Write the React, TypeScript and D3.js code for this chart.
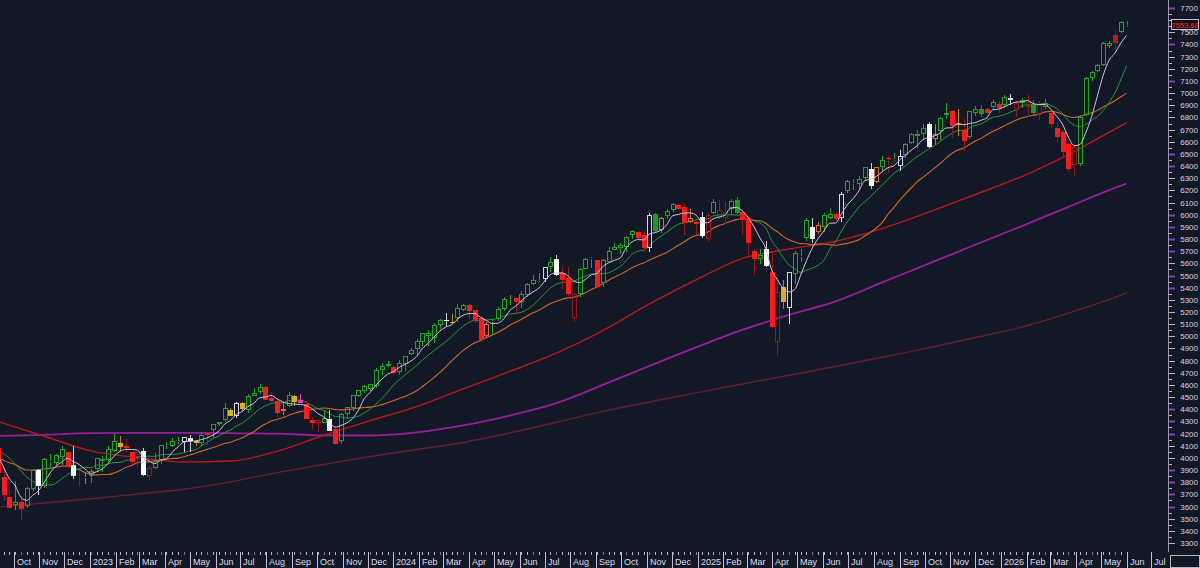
import React from "react";
import * as d3 from "d3";

// weekly bars, first bar = week of 12 Sep 2022
const firstWeek = new Date(2022, 8, 12);

const open = [
  4083, 3846, 3682, 3609, 3640, 3602, 3741, 3901, 3767, 3977, 3956, 4005, 4052, 3939, 3853, 3843,
  3853, 3911, 3989, 3979, 4056, 4119, 4096, 4052, 3992, 4055, 3855, 3917, 3982, 4102, 4100, 4138,
  4134, 4166, 4136, 4126, 4190, 4226, 4282, 4308, 4396, 4345, 4450, 4394, 4508, 4543, 4585, 4492,
  4465, 4389, 4427, 4510, 4480, 4445, 4310, 4285, 4289, 4321, 4238, 4140, 4364, 4407, 4511, 4554,
  4564, 4594, 4726, 4758,
  4745, 4703, 4772, 4853, 4892, 4957, 5026, 4989, 5094, 5130, 5111, 5154, 5219, 5258, 5218, 5149,
  5005, 5114, 5142, 5221, 5308, 5316, 5283, 5341, 5431, 5459, 5472, 5572, 5638, 5523, 5476, 5151,
  5345, 5557, 5640, 5624, 5442, 5615, 5712, 5727, 5737, 5836, 5857, 5833, 5724, 6008, 5878, 5992,
  6040, 6083, 6063, 5940, 5920,
  5983, 5804, 6014, 5969, 5969, 6046, 6121, 6026, 5969, 5705, 5635, 5719, 5527, 4953, 5405, 5233,
  5509, 5655, 5808, 5902, 5855, 5897, 6004, 6005, 5970, 6193, 6259, 6255, 6304, 6375, 6271, 6389,
  6455, 6457, 6401, 6490, 6586, 6665, 6661, 6744, 6622, 6685, 6820, 6851, 6750, 6700, 6635, 6840,
  6870, 6869, 6886, 6910,
  6902, 6960, 6861, 6920, 6886, 6910, 6820, 6886, 6836, 6713, 6680, 6582, 6409, 6420, 6820, 7124,
  7180, 7231, 7385, 7478, 7503, 7560,
];
const high = [
  4140, 3907, 3736, 3806, 3685, 3762, 3905, 3912, 4001, 4028, 4034, 4100, 4052, 4101, 3896, 3879,
  3906, 4003, 4015, 4095, 4195, 4176, 4156, 4052, 4048, 4079, 3937, 4039, 4110, 4133, 4164, 4170,
  4170, 4187, 4143, 4212, 4210, 4282, 4299, 4448, 4409, 4458, 4456, 4528, 4578, 4607, 4595, 4540,
  4490, 4448, 4541, 4514, 4527, 4466, 4338, 4317, 4394, 4393, 4255, 4366, 4415, 4520, 4560, 4598,
  4609, 4739, 4778, 4793,
  4755, 4802, 4842, 4903, 4975, 5030, 5048, 5111, 5140, 5190, 5180, 5262, 5264, 5264, 5220, 5168,
  5114, 5139, 5239, 5325, 5342, 5325, 5376, 5441, 5505, 5524, 5570, 5655, 5669, 5566, 5566, 5358,
  5563, 5644, 5651, 5626, 5636, 5734, 5767, 5765, 5822, 5878, 5862, 5868, 6012, 6018, 5984, 6044,
  6099, 6089, 6085, 6049, 5949,
  6021, 6014, 6128, 6120, 6101, 6128, 6147, 6044, 5987, 5715, 5715, 5787, 5695, 5481, 5459, 5528,
  5700, 5720, 5969, 5969, 5944, 6017, 6059, 6024, 6187, 6284, 6290, 6315, 6395, 6428, 6395, 6481,
  6481, 6509, 6533, 6592, 6672, 6699, 6750, 6764, 6745, 6800, 6920, 6864, 6870, 6785, 6855, 6895,
  6901, 6880, 6945, 6935,
  6985, 6990, 6935, 6960, 6985, 6940, 6935, 6950, 6860, 6760, 6700, 6600, 6580, 6810, 7130, 7180,
  7240, 7420, 7430, 7510, 7590, 7590,
];
const low = [
  3837, 3648, 3584, 3572, 3491, 3590, 3731, 3698, 3751, 3906, 3940, 3940, 3918, 3828, 3765, 3784,
  3794, 3887, 3885, 3966, 4050, 4060, 4048, 3943, 3928, 3847, 3809, 3909, 3949, 4069, 4086, 4114,
  4049, 4048, 4099, 4099, 4103, 4166, 4261, 4292, 4341, 4328, 4385, 4373, 4505, 4528, 4474, 4458,
  4335, 4356, 4417, 4430, 4448, 4317, 4238, 4216, 4284, 4223, 4104, 4113, 4329, 4388, 4504, 4537,
  4547, 4577, 4682, 4751,
  4683, 4682, 4714, 4845, 4845, 4918, 4920, 4946, 5057, 5087, 5105, 5117, 5204, 5146, 5107, 4953,
  4990, 5011, 5127, 5211, 5257, 5191, 5234, 5324, 5420, 5444, 5446, 5528, 5497, 5390, 5303, 5120,
  5327, 5554, 5561, 5403, 5406, 5604, 5707, 5675, 5695, 5803, 5794, 5697, 5697, 5853, 5853, 5963,
  6023, 6035, 5832, 5932, 5829,
  5809, 5773, 6009, 5962, 5923, 6003, 6009, 5837, 5667, 5505, 5597, 5573, 5069, 4835, 5221, 5101,
  5433, 5615, 5786, 5767, 5841, 5861, 5963, 5952, 5944, 6175, 6201, 6201, 6281, 6212, 6258, 6360,
  6343, 6443, 6360, 6467, 6578, 6551, 6625, 6550, 6570, 6615, 6790, 6631, 6650, 6521, 6620, 6810,
  6800, 6760, 6870, 6840,
  6880, 6900, 6800, 6880, 6804, 6820, 6779, 6870, 6720, 6600, 6480, 6351, 6327, 6400, 6810, 7100,
  7170, 7220, 7370, 7362, 7495, 7545,
];
const close = [
  3873, 3693, 3586, 3640, 3583, 3752, 3901, 3771, 3993, 3965, 4026, 4072, 3934, 3852, 3845, 3840,
  3895, 3999, 3973, 4071, 4136, 4090, 4079, 3970, 4046, 3862, 3917, 3971, 4109, 4105, 4138, 4133,
  4169, 4136, 4124, 4192, 4205, 4282, 4299, 4410, 4348, 4450, 4399, 4505, 4536, 4582, 4478, 4464,
  4370, 4406, 4515, 4457, 4450, 4320, 4288, 4308, 4327, 4224, 4117, 4358, 4415, 4514, 4559, 4595,
  4604, 4719, 4755, 4770,
  4697, 4784, 4840, 4891, 4959, 5027, 5006, 5089, 5137, 5124, 5117, 5234, 5254, 5204, 5123, 4967,
  5100, 5128, 5223, 5303, 5305, 5278, 5347, 5431, 5465, 5460, 5567, 5615, 5505, 5459, 5346, 5344,
  5554, 5634, 5648, 5408, 5626, 5703, 5738, 5751, 5815, 5864, 5808, 5728, 5995, 5870, 5969, 6032,
  6090, 6051, 5930, 5971, 5942,
  5827, 5997, 6101, 6041, 6026, 6115, 6013, 5955, 5770, 5639, 5667, 5581, 5074, 5363, 5283, 5525,
  5686, 5660, 5958, 5803, 5912, 6000, 5977, 5968, 6173, 6279, 6260, 6297, 6389, 6238, 6389, 6449,
  6467, 6460, 6482, 6584, 6664, 6644, 6716, 6553, 6664, 6792, 6840, 6729, 6734, 6603, 6849, 6870,
  6830, 6836, 6929, 6877,
  6966, 6940, 6919, 6943, 6927, 6840, 6902, 6919, 6746, 6639, 6516, 6376, 6557, 6800, 7124, 7174,
  7231, 7412, 7410, 7412, 7585, 7554,
];

// candle colour codes, one per bar: g green hollow, G green filled, r red filled, R dark red filled,
// d dark red hollow, w white filled, W white hollow, y yellow filled, o orange hollow, m magenta
const tone2022 = "rrrgrggwggggrwdo";
const tone2023 = "ggGggyrrdwdggggg" + "WwygrgggyWygggrr" + "rogymrrdgwrggggg" + "gggg";
const tone2024 = "rggggggggwygg" + "rrrogggg" + "rggggWgwrrdggg" + "rggggggrrWGoggrror";
const tone2025 = "wdgddgGrrrgwrdyW" + "gggwoggrWggggwog" + "rgWggggwoggryrgg" + "Grgr";
const tone2026 = "gWdgdGdgrrrrdggggggRgg";
const tone = (tone2022 + tone2023 + tone2024 + tone2025 + tone2026).split("");

// closes before the first bar, needed for the 5/10/20 week averages
const priorCloses = [
  4123, 4023, 3901, 4158, 4108, 3901, 3675, 3912, 3825, 3899, 3863, 3962, 4130, 4145, 4280, 4228,
  4058, 3924, 4067,
];

// long averages every 8 weeks (plus the last bar)
const longWeeks = [0, 8, 16, 24, 32, 40, 48, 56, 64, 72, 80, 88, 96, 104, 112, 120, 128, 136, 144, 152, 160, 168, 176, 184, 192, 194];
const ma50 = [4300, 4178, 4058, 4003, 3966, 3974, 4054, 4186, 4306, 4422, 4567, 4711, 4861, 5046, 5266, 5463, 5641, 5718, 5782, 5886, 6021, 6166, 6314, 6495, 6704, 6755];
const ma100 = [4180, 4190, 4203, 4205, 4205, 4203, 4199, 4185, 4184, 4210, 4267, 4348, 4450, 4600, 4756, 4909, 5053, 5176, 5287, 5443, 5597, 5753, 5906, 6064, 6220, 6256];
const ma200 = [3594, 3629, 3664, 3703, 3742, 3803, 3879, 3946, 4011, 4069, 4127, 4205, 4293, 4383, 4460, 4535, 4608, 4680, 4752, 4828, 4905, 4990, 5075, 5190, 5320, 5356];

const priceTicks = d3.range(3300, 7701, 100).filter((v) => v !== 7600);
const profileLevels = [7700, 7400, 7100, 6500, 6400, 6000, 5900, 5800, 5700, 5500, 5400, 4400, 4300, 4200, 3900, 3800, 3700, 3600];
const lastPrice = "7553.68";

const W = 1200;
const H = 568;
const plotRight = 1168;
const plotBottom = 552;
const font = "Liberation Sans, Arial, sans-serif";

const toneStyle: Record<string, { c: string; wick: string; fill: boolean }> = {
  g: { c: "#22a322", wick: "#22a322", fill: false },
  G: { c: "#1c9c1c", wick: "#1c9c1c", fill: true },
  r: { c: "#ff1a1a", wick: "#9e1717", fill: true },
  R: { c: "#b81c1c", wick: "#8e1a1a", fill: true },
  d: { c: "#8e1a1a", wick: "#8e1a1a", fill: false },
  w: { c: "#ffffff", wick: "#cfc8e0", fill: true },
  W: { c: "#d8cff0", wick: "#d8cff0", fill: false },
  y: { c: "#dcb010", wick: "#b08a10", fill: true },
  o: { c: "#d2702a", wick: "#d2702a", fill: false },
  m: { c: "#e040d8", wick: "#e040d8", fill: true },
};

export default function App() {
  const x = d3.scaleTime().domain([new Date(2023, 0, 1), new Date(2026, 0, 1)]).range([90, 1001]);
  const y = d3.scaleLinear().domain([3300, 7700]).range([543, 8]);

  const dates = close.map((_, i) => d3.timeDay.offset(firstWeek, 7 * i));
  const allCloses = priorCloses.concat(close);
  const sma = (n: number) =>
    close.map((_, i) => d3.mean(allCloses.slice(i + priorCloses.length - n + 1, i + priorCloses.length + 1)) as number);

  const shortLine = d3
    .line<number>()
    .x((_, i) => x(dates[i]))
    .y((v) => y(v))
    .curve(d3.curveMonotoneX);
  const longLine = (vals: number[]) =>
    d3
      .line<number>()
      .x((_, i) => x(d3.timeDay.offset(firstWeek, 7 * longWeeks[i])))
      .y((v) => y(v))
      .curve(d3.curveMonotoneX)(vals) as string;

  const months = d3.timeMonth.range(new Date(2022, 9, 1), new Date(2026, 7, 1));
  const fmtMonth = (d: Date) => (d.getMonth() === 0 ? d3.timeFormat("%Y")(d) : d3.timeFormat("%b")(d));

  const candles = dates.map((d, i) => {
    const st = toneStyle[tone[i] || (close[i] >= open[i] ? "g" : "r")];
    const px = Math.round(x(d));
    const top = Math.round(y(Math.max(open[i], close[i])));
    const bot = Math.round(y(Math.min(open[i], close[i])));
    const hi = Math.round(y(high[i]));
    const lo = Math.round(y(low[i]));
    const bh = Math.max(1, bot - top);
    return (
      <g key={i} shapeRendering="crispEdges">
        {st.fill ? (
          <>
            <line x1={px + 0.5} x2={px + 0.5} y1={hi} y2={lo} stroke={st.wick} />
            <rect x={px - 2} y={top} width={5} height={bh} fill={st.c} />
          </>
        ) : (
          <>
            <line x1={px + 0.5} x2={px + 0.5} y1={hi} y2={top} stroke={st.wick} />
            <line x1={px + 0.5} x2={px + 0.5} y1={top + bh} y2={lo} stroke={st.wick} />
            <rect x={px - 1.5} y={top + 0.5} width={4} height={Math.max(0, bh - 1)} fill="none" stroke={st.c} />
          </>
        )}
      </g>
    );
  });

  return (
    <svg width={W} height={H} style={{ position: "fixed", left: 0, top: 0, display: "block" }}>
      <rect width={W} height={H} fill="#131826" />
      <defs>
        <clipPath id="plot">
          <rect x={0} y={0} width={plotRight} height={plotBottom} />
        </clipPath>
      </defs>

      <g clipPath="url(#plot)" fill="none">
        <path d={longLine(ma200)} stroke="#6a1c32" strokeWidth={1.4} />
        <path d={longLine(ma100)} stroke="#951f9a" strokeWidth={1.8} />
        <path d={longLine(ma50)} stroke="#b41b1b" strokeWidth={1.4} />
        <path d={shortLine(sma(20)) as string} stroke="#d0682a" strokeWidth={1.1} />
        <path d={shortLine(sma(10)) as string} stroke="#1f9a3c" strokeWidth={1} />
        {candles}
        <path d={shortLine(sma(5)) as string} stroke="#cdc4e4" strokeWidth={1} />
      </g>

      {/* price axis */}
      <line x1={plotRight + 0.5} x2={plotRight + 0.5} y1={0} y2={plotBottom} stroke="#9a98aa" />
      {d3.range(3300, 7701, 50).map((v) => (
        <line key={v} x1={plotRight + 1} x2={plotRight + (v % 100 === 0 ? 7 : 4)} y1={Math.round(y(v)) + 0.5} y2={Math.round(y(v)) + 0.5} stroke="#b8b6c8" />
      ))}
      {profileLevels.map((v) => (
        <line key={"p" + v} x1={plotRight + 1} x2={plotRight + 7} y1={Math.round(y(v)) + 0.5} y2={Math.round(y(v)) + 0.5} stroke="#8e3fb0" strokeWidth={2} />
      ))}
      {priceTicks.map((v) => (
        <text key={v} x={1198} y={y(v) + 3} textAnchor="end" fill="#d4d4e4" fontSize={8} fontFamily={font}>
          {v}
        </text>
      ))}
      <rect x={1171.5} y={19.5} width={27} height={10} fill="#160f18" stroke="#c8c0c8" />
      <text x={1185} y={27.5} textAnchor="middle" fill="#ff2a2a" fontSize={7.5} fontFamily={font}>
        {lastPrice}
      </text>

      {/* time axis */}
      {dates.map((d, i) => (
        <line key={"t" + i} x1={Math.round(x(d)) + 0.5} x2={Math.round(x(d)) + 0.5} y1={plotBottom} y2={plotBottom + 3} stroke={i % 4 === 0 ? "#9060b0" : "#b8b6c8"} />
      ))}
      {months.map((m) => (
        <g key={m.toISOString()}>
          <line x1={Math.round(x(m)) + 0.5} x2={Math.round(x(m)) + 0.5} y1={plotBottom} y2={H} stroke="#c4bedc" />
          <text x={Math.round(x(m)) + 3} y={565} fill="#dcdcec" fontSize={9} fontFamily={font}>
            {fmtMonth(m)}
          </text>
        </g>
      ))}
      <rect x={plotRight + 2.5} y={555.5} width={29} height={12} fill="#131826" stroke="#b8b8c0" />
    </svg>
  );
}
